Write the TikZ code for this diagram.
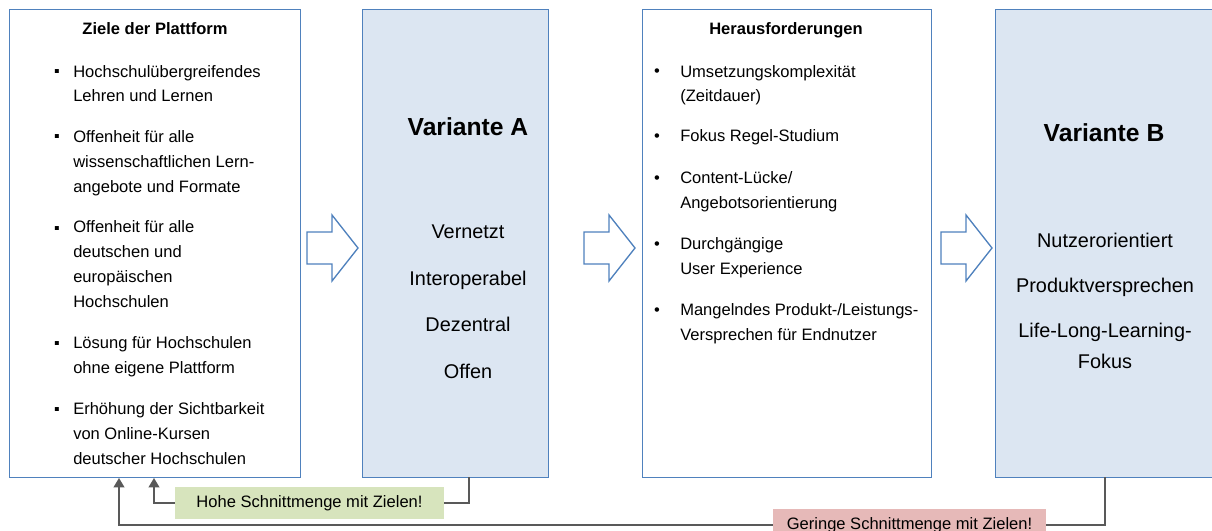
\documentclass[tikz,border=0pt]{standalone}
\usepackage{fontspec}
\setmainfont{Liberation Sans}
\usetikzlibrary{arrows.meta}
\definecolor{boxline}{RGB}{79,129,189}
\definecolor{boxfill}{RGB}{220,230,242}
\definecolor{connline}{RGB}{89,89,89}
\definecolor{goodfill}{RGB}{215,228,189}
\definecolor{badfill}{RGB}{230,185,184}
\begin{document}
\begin{tikzpicture}[x=0.75pt,y=-0.75pt,
  panel/.style={draw=boxline, line width=1.1pt, inner sep=0pt, anchor=north west},
  title/.style={font=\fontsize{12.4}{18.6}\selectfont\bfseries, anchor=base, inner sep=0pt},
  item/.style={font=\fontsize{12.4}{18.6}\selectfont, align=left, anchor=base west, inner sep=0pt},
  bul/.style={font=\fontsize{12.4}{18.6}\selectfont, anchor=base, inner sep=0pt},
  vtitle/.style={font=\fontsize{18.5}{22}\selectfont\bfseries, anchor=base, inner sep=0pt},
  vitem/.style={font=\fontsize{14.9}{23}\selectfont, align=center, anchor=base, inner sep=0pt},
  tag/.style={font=\fontsize{12.4}{15}\selectfont, inner sep=0pt},
  conn/.style={draw=connline, line width=1.3pt},
  tip/.style={-{Triangle[length=7pt,width=8pt]}},
  blockarrow/.style={draw=boxline, fill=white, line width=1pt, line join=miter}]

\useasboundingbox (0,0) rectangle (1212,531);

% panels
\node[panel, fill=white, minimum width=218.25pt, minimum height=351pt] (goals) at (9,9) {};
\node[panel, fill=boxfill, minimum width=139.5pt, minimum height=351pt] (varA) at (362,9) {};
\node[panel, fill=white, minimum width=216.75pt, minimum height=351pt] (chall) at (642,9) {};
\node[panel, fill=boxfill, minimum width=164.25pt, minimum height=351pt] (varB) at (995,9) {};

% block arrows between the panels
\foreach \sx in {307,584,941}
  \draw[blockarrow, shift={(\sx,0)}] (0,232) -- (25,232) -- (25,215) -- (51,248)
        -- (25,281) -- (25,264) -- (0,264) -- cycle;

% goals of the platform (multi-line items are placed by the baseline of their last line)
\node[title] (goalsT) at (155,35) {Ziele der Plattform};
\foreach \n/\yy in {1/77,2/142,3/233,4/348,5/414}
  \node[bul, font=\fontsize{12}{14}\selectfont] (gb\n) at (57,\yy) {▪};
\node[item] (g1) at (73,102) {Hochschulübergreifendes\\Lehren und Lernen};
\node[item] (g2) at (73,192) {Offenheit für alle\\wissenschaftlichen Lern-\\angebote und Formate};
\node[item] (g3) at (73,307) {Offenheit für alle\\deutschen und\\europäischen\\Hochschulen};
\node[item] (g4) at (73,373) {Lösung für Hochschulen\\ohne eigene Plattform};
\node[item] (g5) at (73,464) {Erhöhung der Sichtbarkeit\\von Online-Kursen\\deutscher Hochschulen};

% variant A
\node[vtitle] (varAT) at (468,136) {Variante A};
\node[vitem] (a1) at (468,238) {Vernetzt};
\node[vitem] (a2) at (468,285) {Interoperabel};
\node[vitem] (a3) at (468,331) {Dezentral};
\node[vitem] (a4) at (468,378) {Offen};

% challenges
\node[title] (challT) at (786,35) {Herausforderungen};
\foreach \n/\yy in {1/77,2/142,3/183,4/249,5/315}
  \node[bul] (cb\n) at (657,\yy) {•};
\node[item] (c1) at (680,102) {Umsetzungskomplexität\\(Zeitdauer)};
\node[item] (c2) at (680,142) {Fokus Regel-Studium};
\node[item] (c3) at (680,208) {Content-Lücke/\\Angebotsorientierung};
\node[item] (c4) at (680,274) {Durchgängige\\User Experience};
\node[item] (c5) at (680,340) {Mangelndes Produkt-/Leistungs-\\Versprechen für Endnutzer};

% variant B
\node[vtitle] (varBT) at (1104,142) {Variante B};
\node[vitem] (b1) at (1105,247) {Nutzerorientiert};
\node[vitem] (b2) at (1105,292) {Produktversprechen};
\node[vitem] (b3) at (1105,368) {Life-Long-Learning-\\Fokus};

% overlap labels
\node[tag, fill=goodfill, minimum width=201.75pt, minimum height=24pt] (hi) at (309.5,503) {Hohe Schnittmenge mit Zielen!};
\node[tag, fill=badfill, minimum width=204.75pt, minimum height=24pt] (lo) at (909.5,525) {Geringe Schnittmenge mit Zielen!};

% feedback connectors
\coordinate (aOut) at (469,477);
\coordinate (bOut) at (1105,477);
\coordinate (gIn1) at (154,478);
\coordinate (gIn2) at (119,478);
\draw[conn] (aOut) |- (hi.east);
\draw[conn, tip] (hi.west) -| (gIn1);
\draw[conn] (bOut) |- (lo.east);
\draw[conn, tip] (lo.west) -| (gIn2);
\end{tikzpicture}
\end{document}
